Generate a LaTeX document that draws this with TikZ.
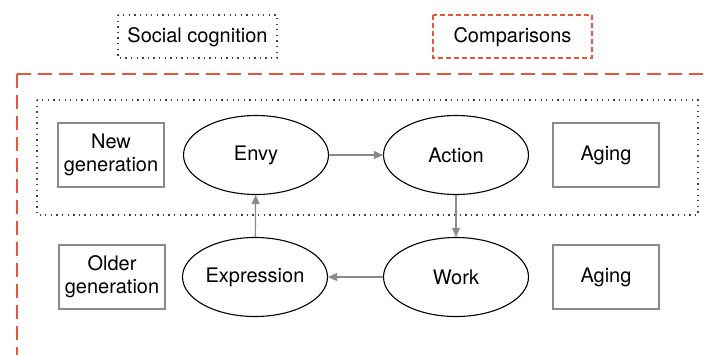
\documentclass[tikz,border=0pt]{standalone}
\usepackage{fontspec}
\setmainfont{TeX Gyre Heros}
\usetikzlibrary{arrows.meta,shapes.geometric}
\definecolor{redd}{HTML}{E8553C}
\definecolor{grayl}{HTML}{8A8A8A}
\begin{document}
\begin{tikzpicture}[x=1pt,y=-1pt,
  txt/.style={font=\fontsize{20}{23}\selectfont},
  ell/.style={draw=black,line width=1.1pt,ellipse,minimum width=145pt,minimum height=79pt,txt,inner sep=0pt},
  sbox/.style={draw=grayl,line width=1.1pt,rectangle,minimum width=106pt,minimum height=64pt,txt,align=center,inner sep=0pt},
  arr/.style={draw=grayl,line width=1.2pt,-{Triangle[length=9pt,width=8pt]}},
  dotbox/.style={draw=black!75,line width=1.3pt,dash pattern=on 1.3pt off 4.3pt},
]
\useasboundingbox (0,0) rectangle (710,354);
\begin{scope}
\clip (0,0) rectangle (710,354);
\draw[redd,line width=1.5pt,dash pattern=on 14pt off 7pt] (17,74) -- (740,74);
\draw[redd,line width=1.5pt,dash pattern=on 14pt off 7pt] (17,74) -- (17,380);
\end{scope}
\draw[dotbox] (118,15) rectangle (277,58);
\node[txt] (sc) at (197.5,37) {Social cognition};
\draw[redd,line width=1.3pt,dash pattern=on 5pt off 3pt] (433,15) rectangle (592,58);
\node[txt] (cmp) at (512.5,37) {Comparisons};
\draw[dotbox] (37,100) rectangle (698,215);
\node[ell] (envy) at (256,155) {Envy};
\node[ell] (action) at (456,155) {Action};
\node[ell] (expr) at (255,277) {Expression};
\node[ell] (work) at (456,277) {Work};
\node[sbox] (newg) at (111,155) {New\\generation};
\node[sbox] (oldg) at (112,277) {Older\\generation};
\node[sbox] (age1) at (606,155) {Aging};
\node[sbox] (age2) at (606,277) {Aging};
\draw[arr] (envy) -- (action);
\draw[arr] (action) -- (work);
\draw[arr] (work) -- (expr);
\draw[arr] (expr) -- (envy);
\end{tikzpicture}
\end{document}
